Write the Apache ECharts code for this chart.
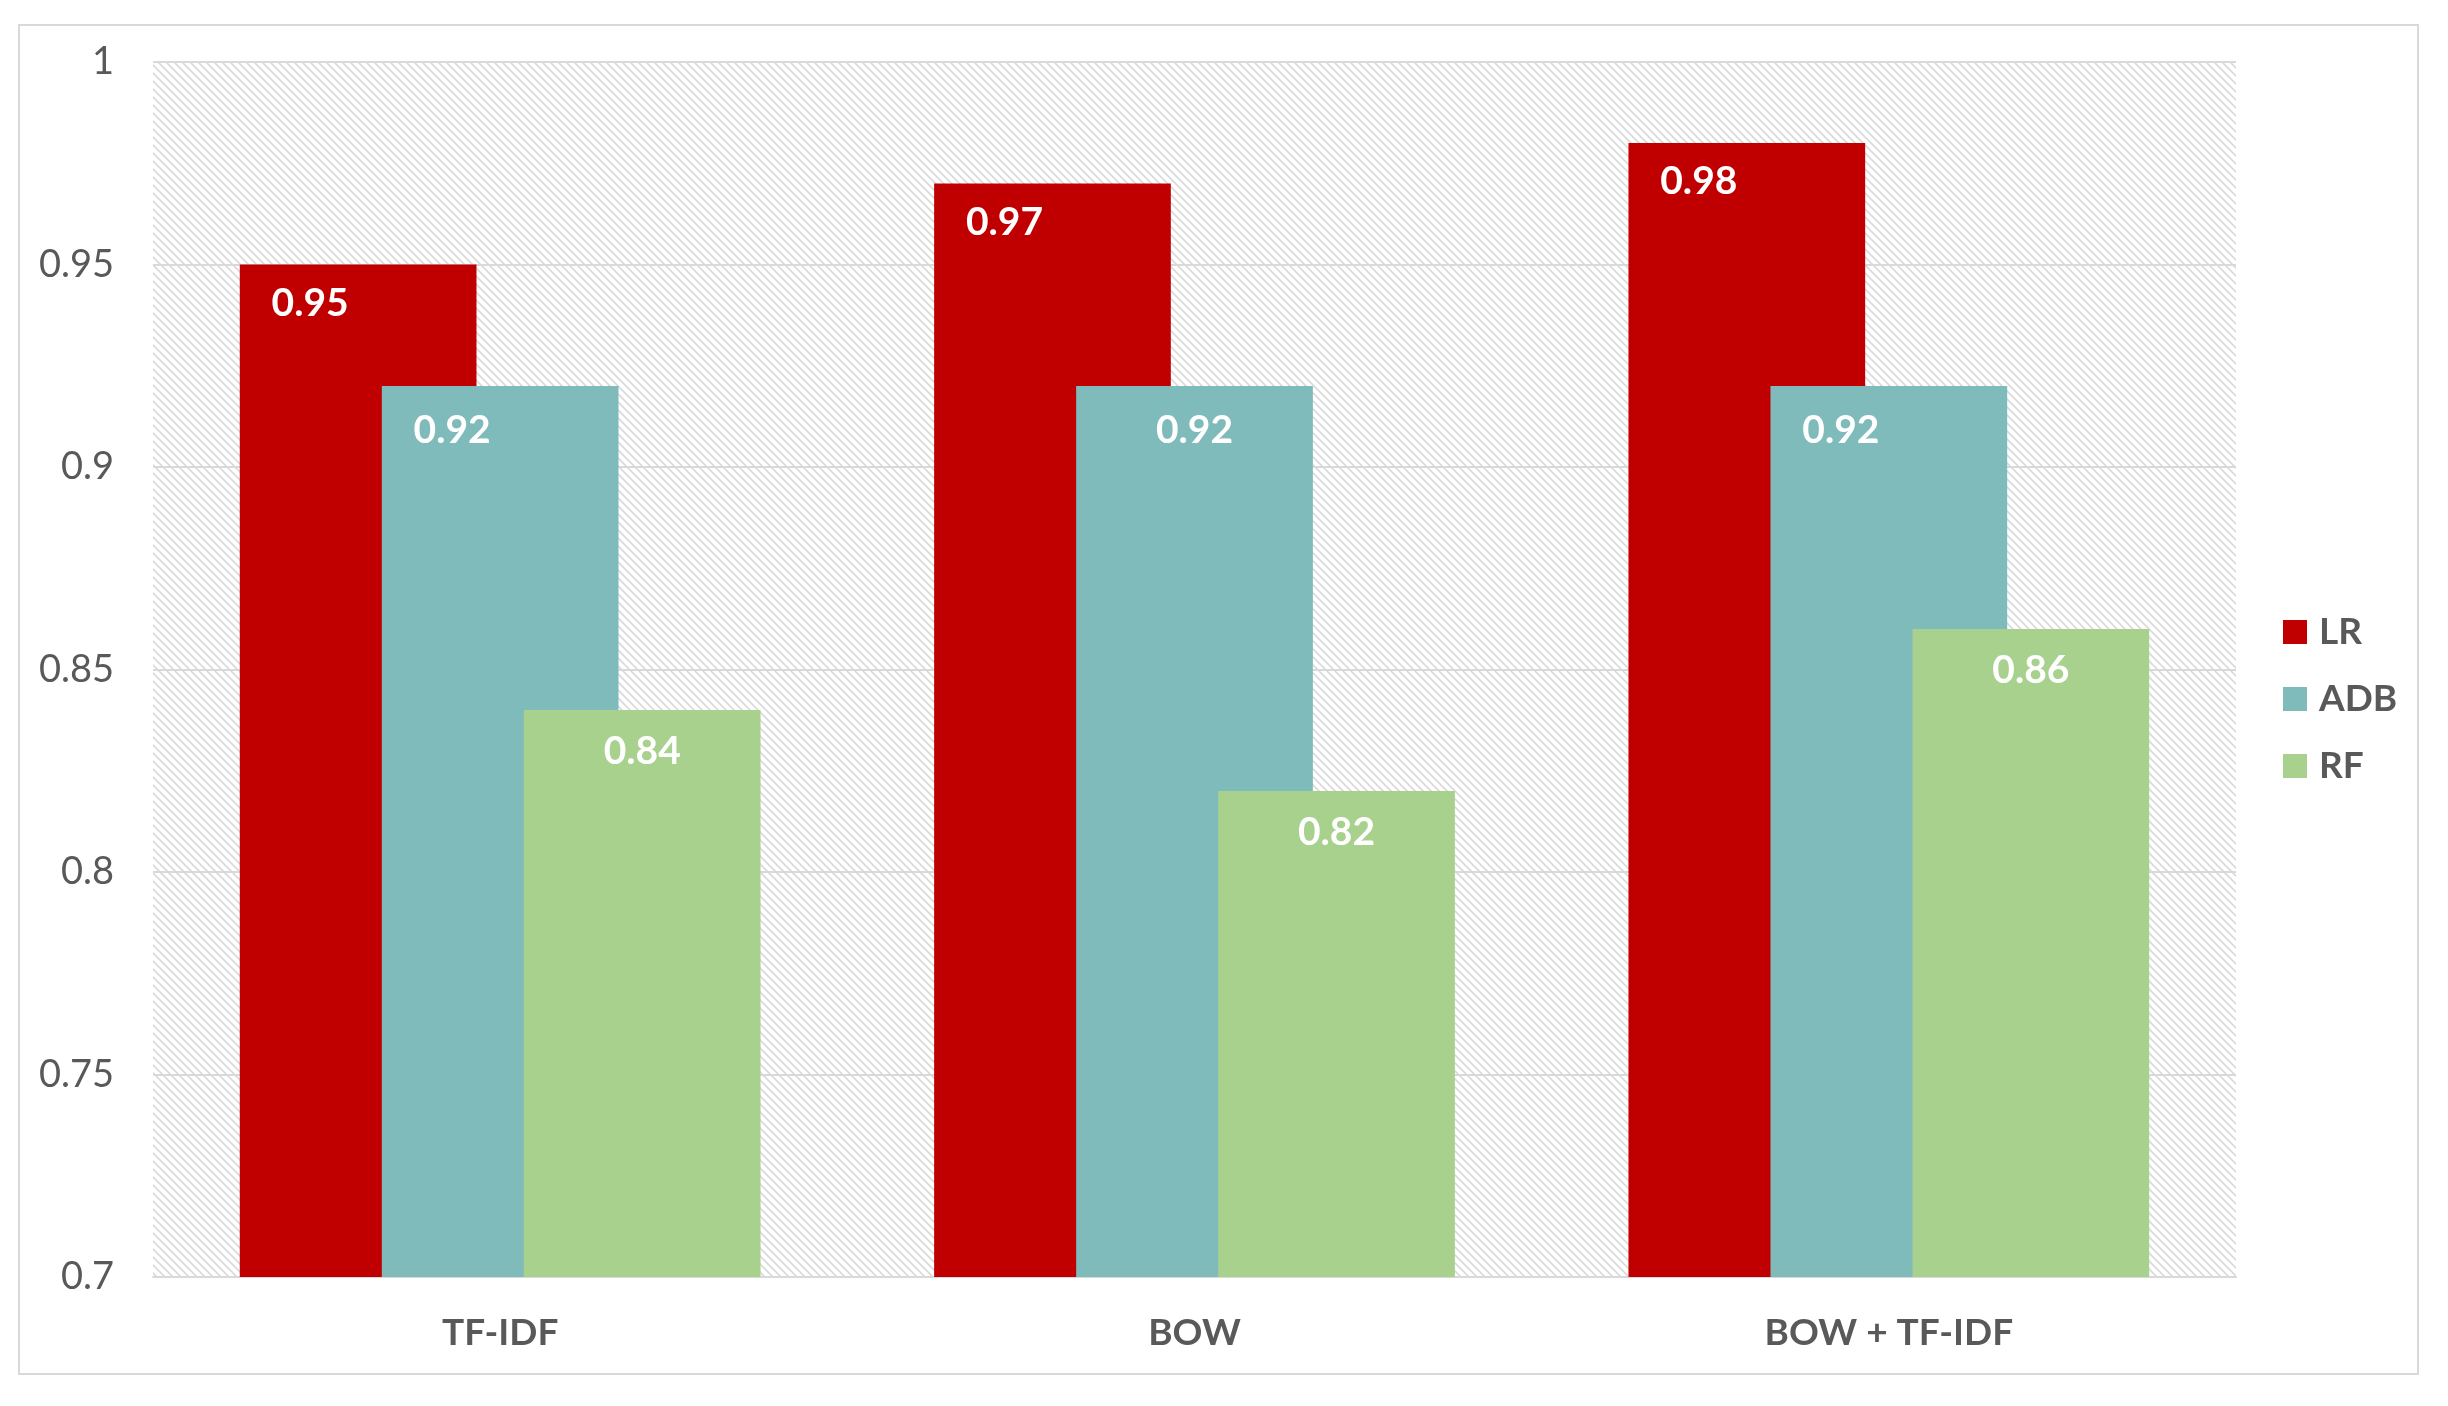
<!DOCTYPE html>
<html>
<head>
<meta charset="utf-8">
<script src="https://cdn.jsdelivr.net/npm/echarts@6/dist/echarts.min.js"></script>
<style>
html,body{margin:0;padding:0;background:#fff;}
#chart{width:2448px;height:1406px;}
</style>
</head>
<body>
<div id="chart"></div>
<script>
const categories = ['TF-IDF', 'BOW', 'BOW + TF-IDF'];
const seriesNames = ['LR', 'ADB', 'RF'];
const lrValues = [0.95, 0.97, 0.98];
const adbValues = [0.92, 0.92, 0.92];
const rfValues = [0.84, 0.82, 0.86];
const yTicks = { min: 0.7, max: 1, interval: 0.05 };

const colors = ['#C00000', '#7FBBBA', '#A9D18E'];
const FONT = 'Lato';

// diagonal hatch pattern for plot background
const pc = document.createElement('canvas');
pc.width = 8; pc.height = 8;
const px = pc.getContext('2d');
px.fillStyle = '#ffffff';
px.fillRect(0, 0, 8, 8);
px.strokeStyle = '#d9d9d9';
px.lineWidth = 1.6;
px.beginPath();
px.moveTo(-2, -2); px.lineTo(10, 10);
px.moveTo(6, -2); px.lineTo(10, 2);
px.moveTo(-2, 6); px.lineTo(2, 10);
px.stroke();

const chart = echarts.init(document.getElementById('chart'), null, { renderer: 'canvas' });

// label horizontal shift per series / category (labels centred on visible part of overlapped bars)
const labelShifts = [[-48, -48, -48], [-48, 0, -48], [0, 0, 0]];
const labelDistances = [19, 25, 22];

const dataSets = [lrValues, adbValues, rfValues];

chart.setOption({
  backgroundColor: '#ffffff',
  animation: false,
  graphic: [{
    type: 'rect',
    shape: { x: 19, y: 25, width: 2399, height: 1349 },
    style: { fill: 'none', stroke: '#d9d9d9', lineWidth: 2 },
    silent: true,
    z: -10
  }],
  grid: {
    left: 153, right: 212, top: 62, bottom: 129,
    show: true,
    borderWidth: 0,
    backgroundColor: { image: pc, repeat: 'repeat' }
  },
  legend: {
    orient: 'vertical',
    left: 2278,
    top: 607,
    itemWidth: 24,
    itemHeight: 24,
    itemGap: 27,
    icon: 'rect',
    data: seriesNames,
    textStyle: {
      color: '#595959',
      fontFamily: FONT,
      fontWeight: 'bold',
      fontSize: 37,
      lineHeight: 40,
      padding: [0, 0, 0, 7]
    }
  },
  xAxis: {
    type: 'category',
    data: categories,
    axisLine: { show: true, lineStyle: { color: '#d9d9d9', width: 2 } },
    axisTick: { show: false },
    axisLabel: {
      color: '#595959',
      fontFamily: FONT,
      fontWeight: 'bold',
      fontSize: 37,
      margin: 38
    }
  },
  yAxis: {
    type: 'value',
    min: yTicks.min,
    max: yTicks.max,
    interval: yTicks.interval,
    axisLine: { show: false },
    axisTick: { show: false },
    splitLine: { show: true, lineStyle: { color: '#d9d9d9', width: 2 } },
    axisLabel: {
      color: '#595959',
      fontFamily: FONT,
      fontSize: 38,
      margin: 39,
      formatter: function (v) { return String(Math.round(v * 100) / 100); }
    }
  },
  series: seriesNames.map((name, i) => ({
    name: name,
    type: 'bar',
    data: dataSets[i].map((v, j) => ({
      value: v,
      label: { offset: [labelShifts[i][j], 0] }
    })),
    barGap: '-40%',
    barCategoryGap: '25%',
    itemStyle: { color: colors[i] },
    label: {
      show: true,
      position: 'insideTop',
      distance: labelDistances[i],
      color: '#ffffff',
      fontFamily: FONT,
      fontWeight: 'bold',
      fontSize: 39
    }
  }))
});
</script>
</body>
</html>
